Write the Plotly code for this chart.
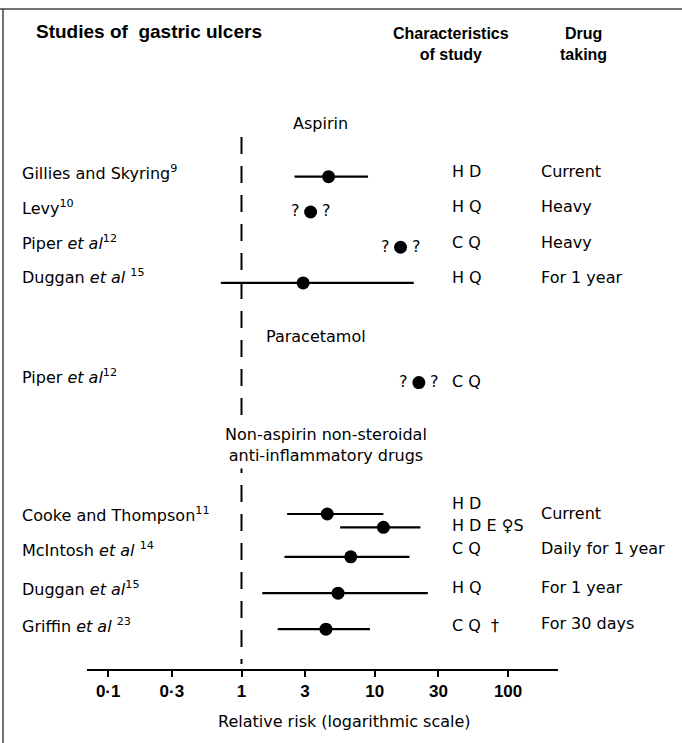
import numpy as np
import plotly.graph_objects as go

# ---------------- data ----------------
study_labels = [
    "Gillies and Skyring<sup>9</sup>",
    "Levy<sup>10</sup>",
    "Piper <i>et al</i><sup>12</sup>",
    "Duggan <i>et al</i> <sup>15</sup>",
    "Piper <i>et al</i><sup>12</sup>",
    "Cooke and Thompson<sup>11</sup>",
    "",
    "McIntosh <i>et al</i> <sup>14</sup>",
    "Duggan <i>et al</i><sup>15</sup>",
    "Griffin <i>et al</i> <sup>23</sup>",
]
drug_group = ["Aspirin"] * 4 + ["Paracetamol"] + ["NSAID"] * 5
relative_risk = [4.5, 3.3, 15.6, 2.9, 21.4, 4.4, 11.6, 6.6, 5.3, 4.3]
ci_lower = [2.5, None, None, 0.70, None, 2.2, 5.5, 2.1, 1.43, 1.87]
ci_upper = [8.9, None, None, 19.6, None, 11.6, 22.0, 18.2, 25.0, 9.2]
estimate_uncertain = [False, True, True, False, True, False, False, False, False, False]
characteristics = ["H D", "H Q", "C Q", "H Q", "C Q", "H D", "H D E \u2640S",
                   "C Q", "H Q", "C Q\u00a0 \u2020"]
drug_taking = ["Current", "Heavy", "Heavy", "For 1 year", "", "Current", "",
               "Daily for 1 year", "For 1 year", "For 30 days"]
group_titles = ["Aspirin", "Paracetamol",
                "Non-aspirin non-steroidal<br>anti-inflammatory drugs"]
tick_values = [0.1, 0.3, 1, 3, 10, 30, 100]
tick_labels = ["0\u00b71", "0\u00b73", "1", "3", "10", "30", "100"]

# ---------------- layout (positions / styles) ----------------
W, H = 682, 743
FONT = "DejaVu Sans"
HFONT = "Liberation Sans"
row_slot = [0, 0.98, 1.96, 2.95, 5.72, 9.37, 9.74, 10.56, 11.57, 12.57]
label_shift = [4, 4, 5, 6, 6, 0, 0, 7, 5, 4]
char_shift = [5, 5, 5, 5, 1, 11, 2, 8, 6, 4]
drug_shift = [5, 5, 5, 5, 0, 1, 0, 8, 6, 6]
group_slot = [-1.483, 4.45, 7.44]
group_x = [320, 316, 326]
group_bg = [None, None, "white"]
slot_px = 36.0
slot0_px = 176.7
axis_px = 669.0
ymax = (axis_px - slot0_px) / slot_px
ymin = (0 - slot0_px) / slot_px
one_px = 241.5
decade_px = 133.3
x_left_px, x_right_px = 87, 558
xr = [(x_left_px - one_px) / decade_px, (x_right_px - one_px) / decade_px]

fig = go.Figure()

# reference line at RR = 1
fig.add_trace(go.Scatter(
    x=[1, 1], y=[(137 - slot0_px) / slot_px, (664 - slot0_px) / slot_px],
    mode="lines", line=dict(color="black", width=2, dash="17px,12px"),
    hoverinfo="skip"))

# confidence intervals
for lo, hi, s in zip(ci_lower, ci_upper, row_slot):
    if lo is None:
        continue
    fig.add_trace(go.Scatter(x=[lo, hi], y=[s, s], mode="lines",
                             line=dict(color="black", width=2.2), hoverinfo="skip"))

# point estimates
fig.add_trace(go.Scatter(x=relative_risk, y=row_slot, mode="markers",
                         marker=dict(color="black", size=13, line=dict(width=0))))

ann = []
txt = dict(family=FONT, size=16, color="black")
hdr = dict(family=HFONT, size=16, color="black")
for i, s in enumerate(row_slot):
    if study_labels[i]:
        ann.append(dict(x=20 / W, xref="paper", y=s, yref="y", text=study_labels[i],
                        xanchor="left", yanchor="middle", yshift=label_shift[i],
                        showarrow=False, font=txt))
    if characteristics[i]:
        ann.append(dict(x=450 / W, xref="paper", y=s, yref="y", text=characteristics[i],
                        xanchor="left", yanchor="middle", yshift=char_shift[i],
                        showarrow=False, font=txt))
    if drug_taking[i]:
        ann.append(dict(x=539 / W, xref="paper", y=s, yref="y", text=drug_taking[i],
                        xanchor="left", yanchor="middle", yshift=drug_shift[i],
                        showarrow=False, font=txt))
    if estimate_uncertain[i]:
        for dx in (-15.5, 15.5):
            ann.append(dict(x=np.log10(relative_risk[i]), xref="x", y=s, yref="y",
                            text="?", xshift=dx, yshift=1, showarrow=False,
                            xanchor="center", yanchor="middle", font=txt))

for g, gs, gx, bg in zip(group_titles, group_slot, group_x, group_bg):
    a = dict(x=gx / W, xref="paper", y=gs, yref="y", text=g,
             xanchor="center", yanchor="middle", showarrow=False,
             font=dict(family=FONT, size=16, color="black"))
    if bg:
        a["bgcolor"] = bg
        a["borderpad"] = 3
    ann.append(a)

# headers
ann.append(dict(x=34 / W, xref="paper", y=1 - 31 / H, yref="paper",
                text="<b>Studies of\u00a0 gastric ulcers</b>", xanchor="left",
                yanchor="middle", showarrow=False,
                font=dict(family=HFONT, size=19, color="black")))
ann.append(dict(x=451 / W, xref="paper", y=1 - 44 / H, yref="paper",
                text="<b>Characteristics<br>of study</b>", xanchor="center",
                yanchor="middle", showarrow=False, font=hdr))
ann.append(dict(x=583 / W, xref="paper", y=1 - 44 / H, yref="paper",
                text="<b>Drug<br>taking</b>", xanchor="center", yanchor="middle",
                showarrow=False, font=hdr))
# axis title
ann.append(dict(x=344 / W, xref="paper", y=1 - 721 / H, yref="paper",
                text="Relative risk (logarithmic scale)", xanchor="center",
                yanchor="middle", showarrow=False, font=txt))

fig.update_layout(
    width=W, height=H, margin=dict(l=0, r=0, t=0, b=0),
    paper_bgcolor="white", plot_bgcolor="white", showlegend=False,
    annotations=ann,
    xaxis=dict(type="log", domain=[x_left_px / W, x_right_px / W], range=xr,
               showline=True, linecolor="black", linewidth=2,
               ticks="outside", ticklen=6, tickwidth=2, tickcolor="black",
               tickvals=tick_values, ticktext=["<b>%s</b>" % t for t in tick_labels],
               tickfont=dict(family=HFONT, size=17, color="black"),
               showgrid=False, zeroline=False, anchor="y"),
    yaxis=dict(domain=[(H - axis_px) / H, 1], range=[ymax, ymin], visible=False,
               showgrid=False, zeroline=False),
    shapes=[
        dict(type="line", xref="paper", yref="paper", x0=0, x1=1,
             y0=1 - 9 / H, y1=1 - 9 / H, line=dict(color="#444", width=1.5)),
        dict(type="line", xref="paper", yref="paper", x0=3 / W, x1=3 / W,
             y0=0, y1=1 - 9 / H, line=dict(color="#444", width=1.5)),
    ],
)

fig.write_html(
    "out.html",
    config={"displayModeBar": False},
    post_script="document.body.style.margin='0';document.body.style.overflow='hidden';",
)
